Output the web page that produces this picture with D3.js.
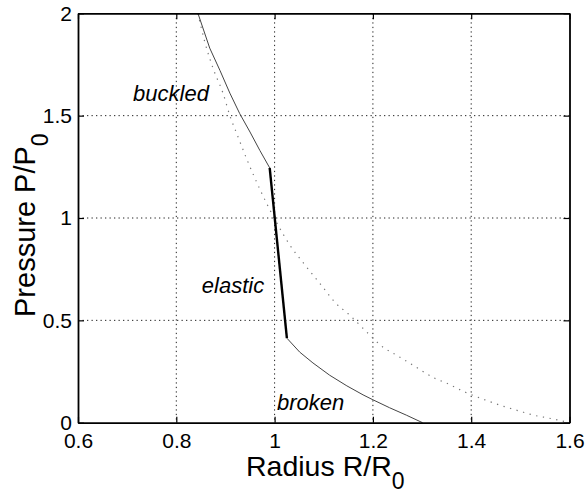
<!DOCTYPE html>
<html>
<head>
<meta charset="utf-8">
<script src="https://cdn.jsdelivr.net/npm/d3@7"></script>
<style>
  html, body { margin: 0; padding: 0; background: #fff; }
  svg { display: block; font-family: "Liberation Sans", Arial, Helvetica, sans-serif; }
</style>
</head>
<body>
<svg id="chart" width="588" height="493"></svg>
<script>
// Pressure–radius response of a shell: buckled, elastic and broken branches,
// plus the purely elastic reference curve (dotted).
const xTicks = [0.6, 0.8, 1.0, 1.2, 1.4, 1.6];
const xTickLabels = ["0.6", "0.8", "1", "1.2", "1.4", "1.6"];
const yTicks = [0, 0.5, 1, 1.5, 2];
const yTickLabels = ["0", "0.5", "1", "1.5", "2"];

// buckled branch (thin solid)
const buckledR = [0.844, 0.868, 0.889, 0.909, 0.929, 0.950, 0.970, 0.990];
const buckledP = [2.000, 1.830, 1.720, 1.610, 1.510, 1.420, 1.330, 1.245];

// elastic branch (thick solid)
const elasticR = [0.990, 1.025];
const elasticP = [1.245, 0.413];

// broken branch (thin solid)
const brokenR = [1.025, 1.051, 1.078, 1.112, 1.147, 1.180, 1.200, 1.234, 1.268, 1.301];
const brokenP = [0.413, 0.345, 0.292, 0.232, 0.180, 0.136, 0.112, 0.073, 0.037, 0.000];

// elastic reference curve (dotted)
const refR = [0.844, 0.858, 0.875, 0.895, 0.909, 0.925, 0.943, 0.976, 1.007, 1.031, 1.057,
              1.098, 1.122, 1.153, 1.190, 1.220, 1.248, 1.281, 1.326, 1.350, 1.387, 1.423,
              1.458, 1.498, 1.525, 1.563, 1.600];
const refP = [2.000, 1.860, 1.730, 1.610, 1.500, 1.400, 1.290, 1.110, 0.965, 0.868, 0.785,
              0.663, 0.590, 0.525, 0.437, 0.370, 0.330, 0.282, 0.217, 0.193, 0.150, 0.116,
              0.086, 0.057, 0.038, 0.020, 0.000];

// region annotations
const noteText = ["buckled", "elastic", "broken"];
const noteR = [0.712, 0.852, 1.005];
const noteP = [1.572, 0.634, 0.062];

const svg = d3.select("#chart");
const plotLeft = 78, plotRight = 569.5, plotTop = 13.3, plotBottom = 422.7;

const x = d3.scaleLinear().domain([0.6, 1.6]).range([plotLeft, plotRight]);
const y = d3.scaleLinear().domain([0, 2]).range([plotBottom, plotTop]);

const zip = (a, b) => a.map((v, i) => [v, b[i]]);
const line = d3.line().x(d => x(d[0])).y(d => y(d[1]));

// dotted grid
const grid = svg.append("g").attr("stroke", "#222").attr("stroke-width", 1)
  .attr("stroke-dasharray", "1.3,3.2");
grid.selectAll(".gx").data(xTicks.slice(1, -1)).join("line")
  .attr("x1", d => x(d)).attr("x2", d => x(d)).attr("y1", plotTop).attr("y2", plotBottom);
grid.selectAll(".gy").data(yTicks.slice(1, -1)).join("line")
  .attr("y1", d => y(d)).attr("y2", d => y(d)).attr("x1", plotLeft).attr("x2", plotRight);

// curves
svg.append("path").datum(zip(refR, refP)).attr("d", line.curve(d3.curveMonotoneX))
  .attr("fill", "none").attr("stroke", "#777").attr("stroke-width", 1.2)
  .attr("stroke-dasharray", "1.3,5.5");
line.curve(d3.curveLinear);
svg.append("path").datum(zip(buckledR, buckledP)).attr("d", line)
  .attr("fill", "none").attr("stroke", "#444").attr("stroke-width", 1);
svg.append("path").datum(zip(brokenR, brokenP)).attr("d", line)
  .attr("fill", "none").attr("stroke", "#444").attr("stroke-width", 1);
svg.append("path").datum(zip(elasticR, elasticP)).attr("d", line)
  .attr("fill", "none").attr("stroke", "#000").attr("stroke-width", 2.4);

// axes with inward ticks on all four sides
const fmtX = d => xTickLabels[xTicks.indexOf(d)];
const fmtY = d => yTickLabels[yTicks.indexOf(d)];

const styleAxis = g => {
  g.select(".domain").attr("stroke", "#000").attr("stroke-width", 1.8);
  g.selectAll(".tick line").attr("stroke", "#000").attr("stroke-width", 1.2);
  g.selectAll(".tick text").attr("fill", "#000").attr("font-size", 21)
    .attr("font-family", "'Liberation Sans', Arial, Helvetica, sans-serif");
};

svg.append("g").attr("transform", `translate(0,${plotBottom})`)
  .call(d3.axisBottom(x).tickValues(xTicks).tickFormat(fmtX)
    .tickSizeInner(-6).tickSizeOuter(0).tickPadding(10))
  .call(styleAxis);
svg.append("g").attr("transform", `translate(${plotLeft},0)`)
  .call(d3.axisLeft(y).tickValues(yTicks).tickFormat(fmtY)
    .tickSizeInner(-6).tickSizeOuter(0).tickPadding(6))
  .call(styleAxis);
svg.append("g").attr("transform", `translate(0,${plotTop})`)
  .call(d3.axisTop(x).tickValues(xTicks).tickFormat("")
    .tickSizeInner(-6).tickSizeOuter(0))
  .call(styleAxis);
svg.append("g").attr("transform", `translate(${plotRight},0)`)
  .call(d3.axisRight(y).tickValues(yTicks).tickFormat("")
    .tickSizeInner(-6).tickSizeOuter(0))
  .call(styleAxis);

// annotations
svg.append("g").selectAll("text").data(noteText).join("text")
  .attr("x", (d, i) => x(noteR[i])).attr("y", (d, i) => y(noteP[i]))
  .attr("font-size", 22).attr("font-style", "italic").attr("fill", "#000")
  .text(d => d);

// axis titles
const xt = svg.append("text").attr("x", 246).attr("y", 476)
  .attr("font-size", 28.5).attr("fill", "#000");
xt.append("tspan").text("Radius R/R");
xt.append("tspan").attr("dy", 13).attr("font-size", 23).text("0");

const yt = svg.append("text").attr("transform", "translate(35,317) rotate(-90)")
  .attr("font-size", 29).attr("fill", "#000");
yt.append("tspan").text("Pressure P/P");
yt.append("tspan").attr("dy", 13).attr("font-size", 23).text("0");
</script>
</body>
</html>
